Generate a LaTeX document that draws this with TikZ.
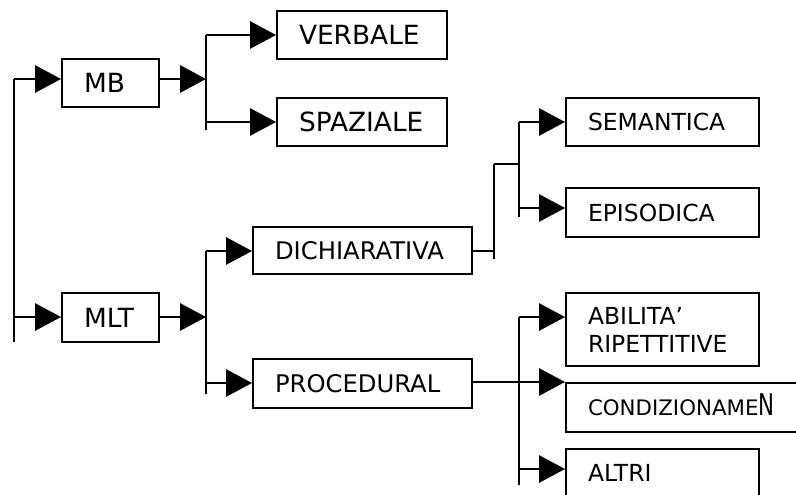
\documentclass[tikz,border=0pt]{standalone}
\usepackage{fontspec}
\setmainfont{DejaVu Sans}
\usepackage{graphicx}
\usetikzlibrary{arrows.meta}

\begin{document}
\begin{tikzpicture}[x=0.75pt,y=-0.75pt,
  box/.style={draw, line width=1.5pt, inner xsep=16.5pt, inner ysep=0pt,
    align=left, anchor=center},
  bigtext/.style={font=\fontsize{19.8pt}{23pt}\selectfont},
  midtext/.style={font=\fontsize{17.6pt}{21pt}\selectfont},
  widetext/.style={font=\fontsize{18.2pt}{21pt}\selectfont},
  smalltext/.style={font=\fontsize{16pt}{19pt}\selectfont},
  link/.style={line width=1.5pt},
  thinlink/.style={line width=0.9pt},
  feed/.style={link, -{Triangle[length=19.5pt,width=20.5pt]}},
]
% page frame
\fill[white] (0,0) rectangle (796,495);
\useasboundingbox (0,0) rectangle (796,495);
\clip (0,0) rectangle (796,495);

% ---- boxes ----
\node[box, bigtext, text width=39.75pt, minimum height=36pt]    (MB)  at (110.5,83)    {MB};
\node[box, bigtext, text width=39.75pt, minimum height=36.75pt] (MLT) at (110.5,317.5) {MLT};

\node[box, bigtext, text width=94.5pt, minimum height=36pt] (VERB) at (362,35)  {VERBALE};
\node[box, bigtext, text width=94.5pt, minimum height=36pt] (SPAZ) at (362,122) {SPAZIALE};

\node[box, widetext, text width=131.25pt, minimum height=35.25pt] (DICH) at (362.5,250.5) {DICHIARATIVA};
\node[box, widetext, text width=131.25pt, minimum height=36.75pt] (PROC) at (362.5,383.5) {PROCEDURAL};

\node[box, midtext, text width=111.75pt, minimum height=36pt]    (SEM)  at (662.5,122)   {SEMANTICA};
\node[box, midtext, text width=111.75pt, minimum height=36.75pt] (EPI)  at (662.5,212.5) {EPISODICA};

\node[box, midtext, text width=111.75pt, minimum height=54.75pt] (ABIL) at (662.5,329.5) {ABILITA’\\RIPETTITIVE};
\node[box, smalltext, text width=165pt, minimum height=36.75pt]  (COND) at (698,407.5)
  {CONDIZIONAME\smash{\scalebox{1}[1.4]{N}}};
\node[box, midtext, text width=111.75pt, minimum height=36pt]    (ALT)  at (662.5,473)   {ALTRI};

% ---- root bracket ----
\coordinate (rootTop) at (14,79);
\coordinate (rootMLT) at (14,317);
\coordinate (rootBot) at (14,342);
\draw[thinlink] (rootTop) -- (rootBot);
\draw[feed] (rootTop) -- (rootTop -| MB.west);
\draw[feed] (rootMLT) -- (rootMLT -| MLT.west);

% ---- MB branch ----
\coordinate (mbFork) at (206,79);
\coordinate (mbTop)  at (206,35);
\coordinate (mbSp)   at (206,122);
\coordinate (mbBot)  at (206,130);
\draw[feed] (MB.east |- mbFork) -- (mbFork);
\draw[link] (mbTop) -- (mbBot);
\draw[feed] (mbTop) -- (mbTop -| VERB.west);
\draw[feed] (mbSp) -- (mbSp -| SPAZ.west);

% ---- MLT branch ----
\coordinate (mltFork) at (206,317);
\coordinate (mltTop)  at (206,251);
\coordinate (mltPr)   at (206,383);
\coordinate (mltBot)  at (206,394);
\draw[feed] (MLT.east |- mltFork) -- (mltFork);
\draw[link] (mltTop) -- (mltBot);
\draw[feed] (mltTop) -- (mltTop -| DICH.west);
\draw[feed] (mltPr) -- (mltPr -| PROC.west);

% ---- DICHIARATIVA branch ----
\coordinate (dJog)  at (494,251);
\coordinate (dTop)  at (494,164);
\coordinate (dBot)  at (494,259);
\coordinate (dJoin) at (519,164);
\coordinate (sTop)  at (519,122);
\coordinate (sEp)   at (519,208);
\coordinate (sBot)  at (519,217);
\draw[thinlink] (DICH.east |- dJog) -- (dJog);
\draw[thinlink] (dTop) -- (dBot);
\draw[thinlink] (dTop) -- (dJoin);
\draw[link] (sTop) -- (sBot);
\draw[feed] (sTop) -- (sTop -| SEM.west);
\draw[feed] (sEp) -- (sEp -| EPI.west);

% ---- PROCEDURAL branch ----
\coordinate (pTop) at (519,317);
\coordinate (pAl)  at (519,469);
\coordinate (pBot) at (519,485);
\draw[link] (pTop) -- (pBot);
\draw[feed] (PROC.east |- COND.north west) -- (COND.north west);
\draw[feed] (pTop) -- (pTop -| ABIL.west);
\draw[feed] (pAl) -- (pAl -| ALT.west);
\end{tikzpicture}
\end{document}
